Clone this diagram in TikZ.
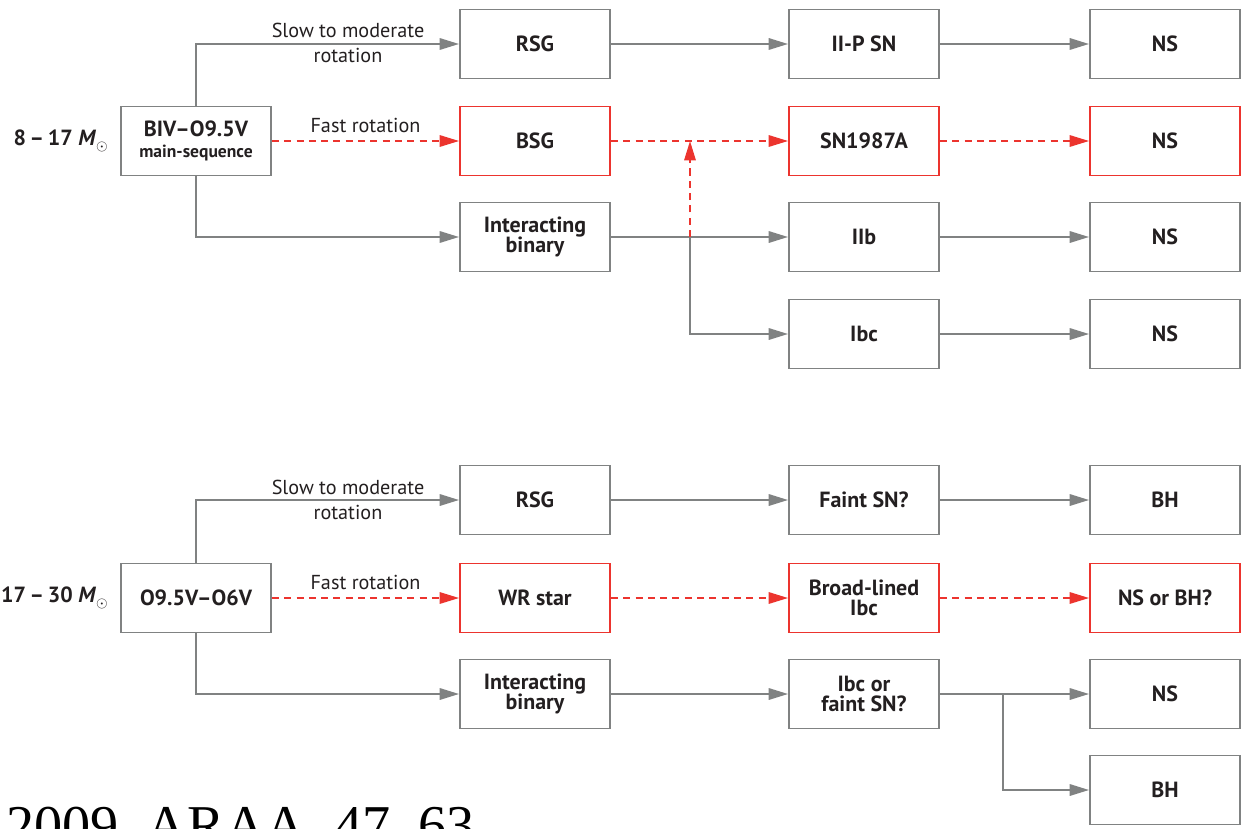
\documentclass[tikz,border=0pt]{standalone}
\usepackage{fontspec}
\setmainfont{PT Sans}
\newfontfamily\citefont{Liberation Serif}
\usepackage{tikz}
\usetikzlibrary{positioning, arrows.meta}

\definecolor{boxgrey}{RGB}{128,130,130}
\definecolor{fastred}{RGB}{236,52,46}
\definecolor{inkdark}{RGB}{35,31,32}

\begin{document}
\begin{tikzpicture}[x=0.02cm, y=-0.02cm,
    font=\bfseries\fontsize{12.5}{14}\selectfont, text=inkdark,
    box/.style={draw=boxgrey, line width=1.1pt, minimum width=3cm, minimum height=1.38cm, align=center, inner sep=2pt},
    redbox/.style={box, draw=fastred},
    arr/.style={draw=boxgrey, line width=1.1pt, -{Triangle[length=11pt, width=6.5pt]}},
    redarr/.style={draw=fastred, line width=1pt, dash pattern=on 4pt off 3pt, -{Triangle[length=11pt, width=6.5pt]}},
    steplabel/.style={font=\mdseries\fontsize{11.5}{13.5}\selectfont, align=center}]
    \useasboundingbox (0,0) rectangle (1247,828);

    % 8 - 17 solar masses
    \node[anchor=east] (massA) at (114,141) {8\,--\,17 \textit{M}\raisebox{-0.4ex}{\footnotesize$\odot$}};
    \node[box] (msA) at (196,141) {BIV--O9.5V\\[-2pt]{\fontsize{10}{11}\selectfont main-sequence}};
    \node[box] (rsgA) at (535,44) {RSG};
    \node[redbox] (bsgA) at (535,141) {BSG};
    \node[box] (ibA) at (535,237) {Interacting\\[-3pt]binary};
    \node[box] (iipA) at (864,44) {II-P SN};
    \node[redbox] (snA) at (864,141) {SN1987A};
    \node[box] (iibA) at (864,237) {IIb};
    \node[box] (ibcA) at (864,334) {Ibc};
    \node[box] (nsA) at (1165,44) {NS};
    \node[redbox] (nsB) at (1165,141) {NS};
    \node[box] (nsC) at (1165,237) {NS};
    \node[box] (nsD) at (1165,334) {NS};

    \draw[arr] (msA.north) |- (rsgA.west);
    \node[steplabel] (slowA) at (348,43) {Slow to moderate\\[1pt]rotation};
    \draw[redarr] (msA.east) -- node[steplabel, above=1pt] (fastA) {Fast rotation} (bsgA.west);
    \draw[arr] (msA.south) |- (ibA.west);
    \draw[arr] (rsgA.east) -- (iipA.west);
    \draw[arr] (iipA.east) -- (nsA.west);
    \draw[redarr] (bsgA.east) -- (snA.west);
    \draw[redarr] (snA.east) -- (nsB.west);
    \draw[arr] (ibA.east) -- (iibA.west);
    \draw[arr] (iibA.east) -- (nsC.west);
    \coordinate (jA) at (690,237);
    \draw[arr] (jA) |- (ibcA.west);
    \draw[redarr] (jA) -- (jA |- bsgA.east);
    \draw[arr] (ibcA.east) -- (nsD.west);

    % 17 - 30 solar masses
    \node[anchor=east] (massB) at (114,598) {17\,--\,30 \textit{M}\raisebox{-0.4ex}{\footnotesize$\odot$}};
    \node[box] (msB) at (196,598) {O9.5V--O6V};
    \node[box] (rsgB) at (535,500) {RSG};
    \node[redbox] (wrB) at (535,598) {WR star};
    \node[box] (ibB) at (535,694) {Interacting\\[-3pt]binary};
    \node[box] (fsnB) at (864,500) {Faint SN?};
    \node[redbox] (blB) at (864,598) {Broad-lined\\[-3pt]Ibc};
    \node[box] (ibcB) at (864,694) {Ibc or\\[-3pt]faint SN?};
    \node[box] (bhA) at (1165,500) {BH};
    \node[redbox] (nsbhB) at (1165,598) {NS or BH?};
    \node[box] (nsE) at (1165,694) {NS};
    \node[box] (bhB) at (1165,790) {BH};

    \draw[arr] (msB.north) |- (rsgB.west);
    \node[steplabel] (slowB) at (348,500) {Slow to moderate\\[1pt]rotation};
    \draw[redarr] (msB.east) -- node[steplabel, above=1pt] (fastB) {Fast rotation} (wrB.west);
    \draw[arr] (msB.south) |- (ibB.west);
    \draw[arr] (rsgB.east) -- (fsnB.west);
    \draw[arr] (fsnB.east) -- (bhA.west);
    \draw[redarr] (wrB.east) -- (blB.west);
    \draw[redarr] (blB.east) -- (nsbhB.west);
    \draw[arr] (ibB.east) -- (ibcB.west);
    \draw[arr] (ibcB.east) -- (nsE.west);
    \coordinate (jB) at (1003,694);
    \draw[arr] (jB) |- (bhB.west);

    % citation, cut off at the lower edge
    \begin{scope}
        \clip (0,0) rectangle (1247,828);
        \node[anchor=base west, inner sep=0pt, text=black, font=\citefont\fontsize{32}{36}\selectfont] (cite) at (6,844) {2009, ARAA, 47, 63};
    \end{scope}
\end{tikzpicture}
\end{document}
